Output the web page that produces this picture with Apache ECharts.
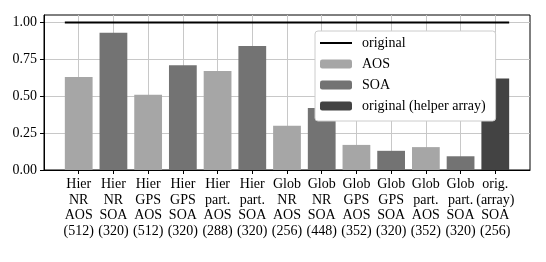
<!DOCTYPE html>
<html><head><meta charset="utf-8">
<script src="https://cdn.jsdelivr.net/npm/echarts@6/dist/echarts.min.js"></script>
<style>html,body{margin:0;padding:0;background:#fff}#c{width:546px;height:262px}</style>
</head><body><div id="c"></div>
<script>
const categories = [
  "Hier\nNR\nAOS\n(512)", "Hier\nNR\nSOA\n(320)", "Hier\nGPS\nAOS\n(512)", "Hier\nGPS\nSOA\n(320)",
  "Hier\npart.\nAOS\n(288)", "Hier\npart.\nSOA\n(320)", "Glob\nNR\nAOS\n(256)", "Glob\nNR\nSOA\n(448)",
  "Glob\nGPS\nAOS\n(352)", "Glob\nGPS\nSOA\n(320)", "Glob\npart.\nAOS\n(352)", "Glob\npart.\nSOA\n(320)",
  "orig.\n(array)\nSOA\n(256)"
];
const aosIdx = [0, 2, 4, 6, 8, 10];
const aosVals = [0.63, 0.51, 0.67, 0.30, 0.17, 0.155];
const soaIdx = [1, 3, 5, 7, 9, 11];
const soaVals = [0.93, 0.71, 0.84, 0.42, 0.13, 0.093];
const helperIdx = [12];
const helperVals = [0.62];
const originalX = [-0.4, 12.4];
const originalY = [1.0, 1.0];
const yTicks = [0, 0.25, 0.5, 0.75, 1.0];

const font = "'Liberation Serif', 'DejaVu Serif', serif";
const gridLeft = 44, gridRight = 16, W = 546;
const unit = (W - gridLeft - gridRight) / 14;
const bw = unit * 0.8;
const catTicks = categories.map((_, i) => i);

const chart = echarts.init(document.getElementById('c'), null, {renderer: 'canvas'});
chart.setOption({
  animation: false,
  backgroundColor: '#fff',
  textStyle: {fontFamily: font, color: '#000'},
  grid: {left: gridLeft, right: gridRight, top: 15, bottom: 92, show: true, borderColor: '#000', borderWidth: 1},
  xAxis: {
    type: 'value', min: -1, max: 13, interval: 1,
    axisLine: {show: true, onZero: false, lineStyle: {color: '#000', width: 1}},
    axisTick: {show: true, length: 4, lineStyle: {color: '#000'}, customValues: catTicks},
    axisLabel: {
      customValues: catTicks, margin: 7, fontFamily: font, fontSize: 14, color: '#000', lineHeight: 15.5,
      formatter: v => categories[Math.round(v)] || ''
    },
    splitLine: {show: true, lineStyle: {color: '#c8c8c8', width: 1}}
  },
  yAxis: {
    type: 'value', min: 0, max: 1.05, interval: 0.25,
    axisLine: {show: true, onZero: false, lineStyle: {color: '#000', width: 1}},
    axisTick: {show: true, length: 4, lineStyle: {color: '#000'}, customValues: yTicks},
    axisLabel: {customValues: yTicks, margin: 7, fontFamily: font, fontSize: 14, color: '#000', formatter: v => v.toFixed(2)},
    splitLine: {show: true, lineStyle: {color: '#c8c8c8', width: 1}}
  },
  legend: {
    orient: 'vertical', left: 315, top: 31,
    padding: [5, 10, 8, 4], itemGap: 7, itemWidth: 32, itemHeight: 9,
    backgroundColor: '#fff', borderColor: '#cccccc', borderWidth: 1, borderRadius: 3,
    textStyle: {fontFamily: font, fontSize: 14, color: '#000', padding: [0, 0, 0, 5]},
    data: [
      {name: 'original', itemStyle: {color: 'rgba(0,0,0,0)', borderWidth: 0, opacity: 0}},
      'AOS', 'SOA', 'original (helper array)'
    ]
  },
  series: [
    {name: 'AOS', type: 'bar', barWidth: bw, barGap: '-100%', itemStyle: {color: '#a6a6a6'},
     data: aosIdx.map((x, i) => [x, aosVals[i]])},
    {name: 'SOA', type: 'bar', barWidth: bw, barGap: '-100%', itemStyle: {color: '#737373'},
     data: soaIdx.map((x, i) => [x, soaVals[i]])},
    {name: 'original (helper array)', type: 'bar', barWidth: bw, barGap: '-100%', itemStyle: {color: '#434343'},
     data: helperIdx.map((x, i) => [x, helperVals[i]])},
    {name: 'original', type: 'line', symbol: 'none', z: 5, lineStyle: {color: '#000', width: 2},
     itemStyle: {color: '#000'},
     data: originalX.map((x, i) => [x, originalY[i]])}
  ]
});
</script></body></html>
